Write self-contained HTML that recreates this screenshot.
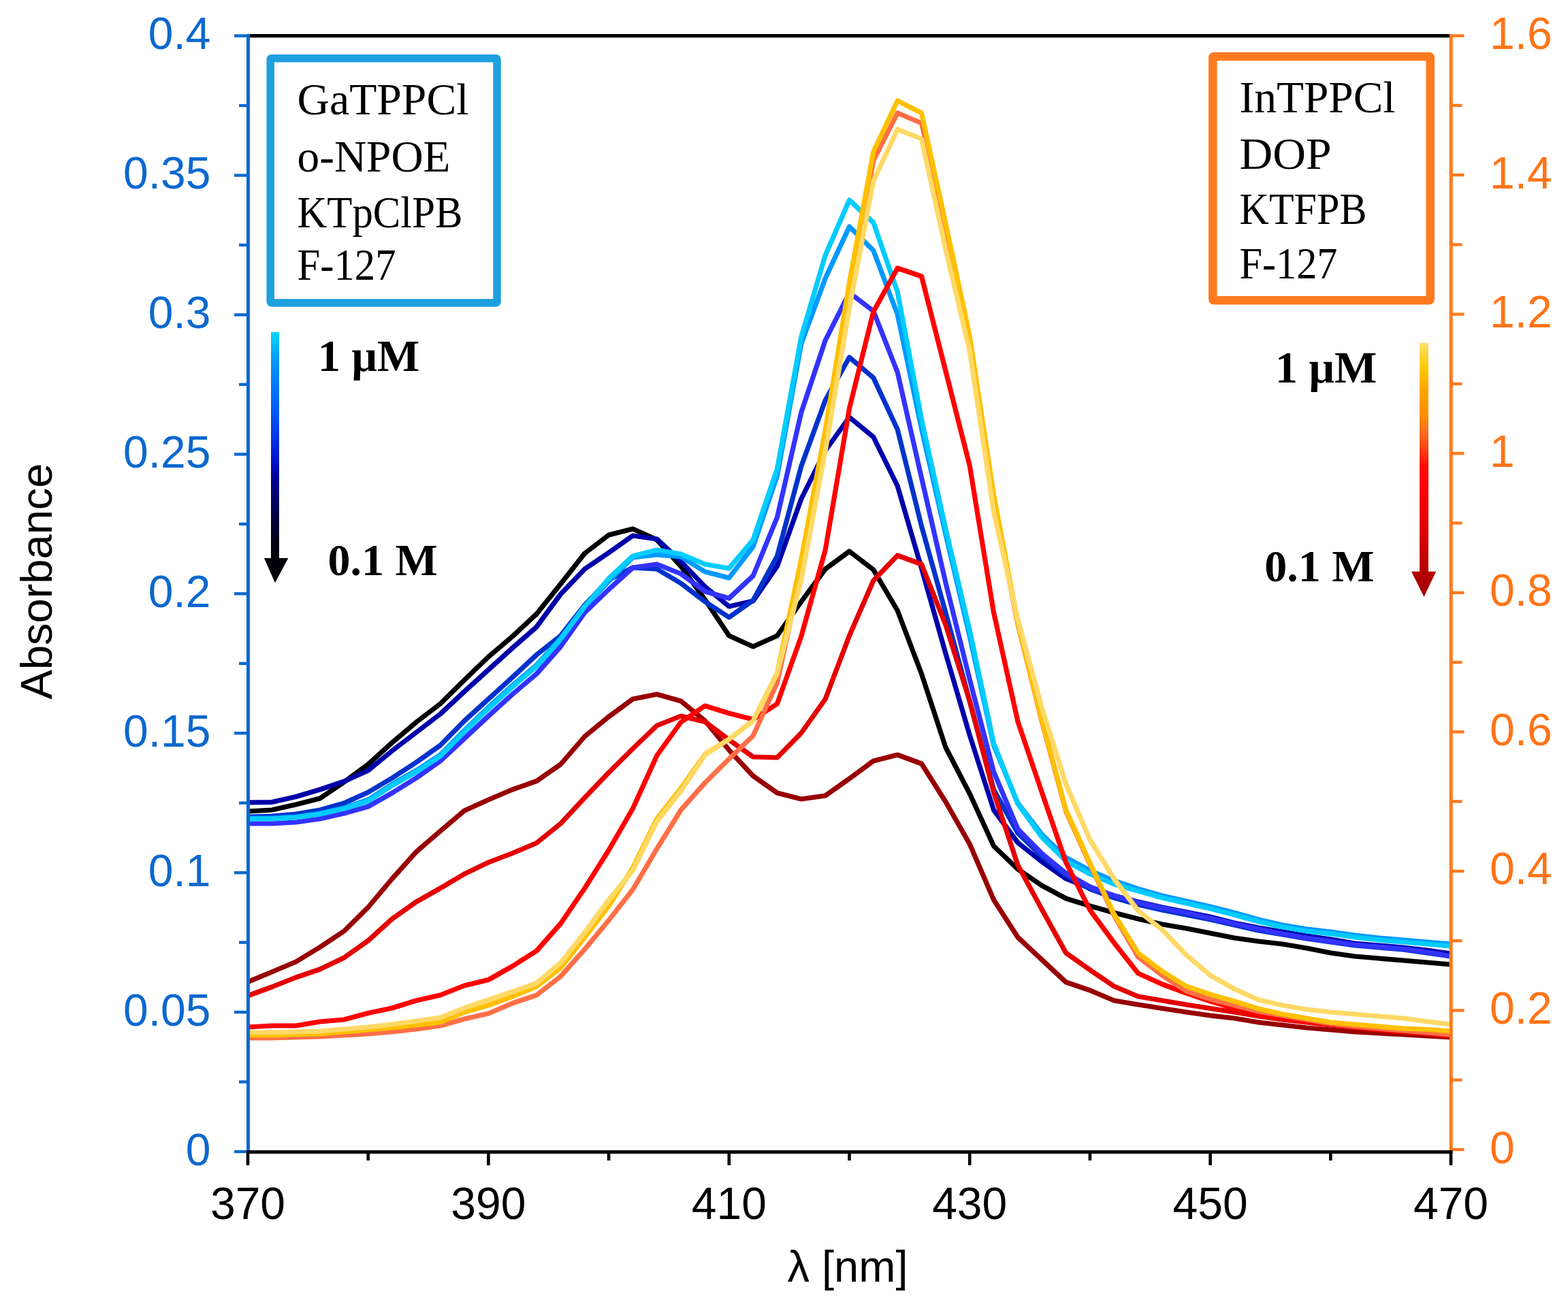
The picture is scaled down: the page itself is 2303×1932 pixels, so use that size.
<!DOCTYPE html>
<html><head><meta charset="utf-8"><title>Absorbance spectra</title>
<style>html,body{margin:0;padding:0;background:#fff;}svg{display:block;}.sans{font-family:"Liberation Sans",Arial,sans-serif;}.serif{font-family:"Liberation Serif","Times New Roman",serif;}</style>
</head><body>
<svg xmlns="http://www.w3.org/2000/svg" width="2303" height="1932" viewBox="0 0 2303 1932">
<defs>
<linearGradient id="gb" x1="0" y1="0" x2="0" y2="1"><stop offset="0" stop-color="#00D8FF"/><stop offset="0.11" stop-color="#0099FF"/><stop offset="0.27" stop-color="#0068FF"/><stop offset="0.39" stop-color="#0040F0"/><stop offset="0.52" stop-color="#0010C8"/><stop offset="0.58" stop-color="#000098"/><stop offset="0.71" stop-color="#000050"/><stop offset="0.84" stop-color="#000010"/><stop offset="1" stop-color="#000000"/></linearGradient>
<linearGradient id="gr" x1="0" y1="0" x2="0" y2="1"><stop offset="0" stop-color="#FFE070"/><stop offset="0.10" stop-color="#FFC800"/><stop offset="0.19" stop-color="#FFA500"/><stop offset="0.29" stop-color="#FF8C00"/><stop offset="0.35" stop-color="#FF7020"/><stop offset="0.42" stop-color="#FF4010"/><stop offset="0.48" stop-color="#FF1000"/><stop offset="0.56" stop-color="#FF0000"/><stop offset="0.66" stop-color="#F00000"/><stop offset="0.77" stop-color="#D80000"/><stop offset="0.89" stop-color="#B80000"/><stop offset="1" stop-color="#A00000"/></linearGradient>
</defs>
<rect x="0" y="0" width="2303" height="1932" fill="#ffffff"/>
<g fill="none" stroke-width="7.2" stroke-linejoin="round" stroke-linecap="butt">
<polyline stroke="#000000" points="364.0,1192.0 399.3,1190.0 434.7,1182.0 470.0,1173.0 505.4,1149.0 540.7,1123.0 576.0,1091.0 611.4,1061.0 646.7,1034.0 682.1,999.0 717.4,965.0 752.7,935.0 788.1,902.0 823.4,858.0 858.8,813.0 894.1,786.0 929.4,777.0 964.8,793.0 1000.1,832.0 1035.5,881.0 1070.8,934.0 1106.1,950.0 1141.5,934.0 1176.8,884.0 1212.2,836.0 1247.5,810.0 1282.8,837.0 1318.2,897.0 1353.5,990.0 1388.9,1098.0 1424.2,1166.0 1459.5,1243.0 1494.9,1277.0 1530.2,1301.0 1565.6,1320.0 1600.9,1331.0 1636.2,1341.0 1671.6,1350.0 1706.9,1358.0 1742.3,1364.0 1777.6,1371.0 1812.9,1378.0 1848.3,1383.0 1883.6,1387.0 1919.0,1393.0 1954.3,1400.0 1989.6,1405.0 2025.0,1408.0 2060.3,1411.0 2095.7,1414.0 2131.0,1417.0"/>
<polyline stroke="#0000AA" points="364.0,1179.0 399.3,1178.6 434.7,1170.5 470.0,1160.0 505.4,1148.0 540.7,1132.0 576.0,1103.0 611.4,1076.0 646.7,1049.0 682.1,1016.0 717.4,984.0 752.7,952.0 788.1,921.0 823.4,873.0 858.8,836.0 894.1,812.0 929.4,787.0 964.8,792.0 1000.1,825.0 1035.5,862.0 1070.8,891.0 1106.1,883.0 1141.5,832.0 1176.8,733.0 1212.2,662.0 1247.5,613.0 1282.8,642.0 1318.2,714.0 1353.5,835.0 1388.9,960.0 1424.2,1080.0 1459.5,1190.0 1494.9,1238.0 1530.2,1266.0 1565.6,1291.0 1600.9,1305.0 1636.2,1316.0 1671.6,1325.0 1706.9,1333.0 1742.3,1340.0 1777.6,1347.0 1812.9,1356.0 1848.3,1363.0 1883.6,1369.0 1919.0,1375.0 1954.3,1380.0 1989.6,1386.0 2025.0,1389.0 2060.3,1392.0 2095.7,1396.0 2131.0,1401.0"/>
<polyline stroke="#0033CC" points="364.0,1200.0 399.3,1199.0 434.7,1196.0 470.0,1190.0 505.4,1180.0 540.7,1164.0 576.0,1143.0 611.4,1120.0 646.7,1095.0 682.1,1059.0 717.4,1027.0 752.7,995.0 788.1,962.0 823.4,934.0 858.8,889.0 894.1,852.0 929.4,834.0 964.8,836.0 1000.1,857.0 1035.5,884.0 1070.8,907.0 1106.1,882.0 1141.5,817.0 1176.8,685.0 1212.2,588.0 1247.5,525.0 1282.8,555.0 1318.2,631.0 1353.5,773.0 1388.9,900.0 1424.2,1030.0 1459.5,1160.0 1494.9,1224.0 1530.2,1258.0 1565.6,1286.0 1600.9,1306.0 1636.2,1319.0 1671.6,1329.0 1706.9,1337.0 1742.3,1344.0 1777.6,1351.0 1812.9,1359.0 1848.3,1367.0 1883.6,1373.0 1919.0,1379.0 1954.3,1384.0 1989.6,1389.0 2025.0,1392.0 2060.3,1395.0 2095.7,1400.0 2131.0,1405.0"/>
<polyline stroke="#3333FF" points="364.0,1210.0 399.3,1210.0 434.7,1208.0 470.0,1203.0 505.4,1195.0 540.7,1185.0 576.0,1165.0 611.4,1143.0 646.7,1118.0 682.1,1085.0 717.4,1052.0 752.7,1020.0 788.1,990.0 823.4,950.0 858.8,900.0 894.1,866.0 929.4,834.0 964.8,829.0 1000.1,843.0 1035.5,869.0 1070.8,879.0 1106.1,846.0 1141.5,760.0 1176.8,606.0 1212.2,500.0 1247.5,430.0 1282.8,457.0 1318.2,547.0 1353.5,702.0 1388.9,856.0 1424.2,998.0 1459.5,1134.0 1494.9,1218.0 1530.2,1254.0 1565.6,1283.0 1600.9,1303.0 1636.2,1316.0 1671.6,1326.0 1706.9,1334.0 1742.3,1341.0 1777.6,1349.0 1812.9,1357.0 1848.3,1365.0 1883.6,1372.0 1919.0,1378.0 1954.3,1383.0 1989.6,1388.0 2025.0,1391.0 2060.3,1394.0 2095.7,1399.0 2131.0,1405.0"/>
<polyline stroke="#0099FF" points="364.0,1202.0 399.3,1202.0 434.7,1200.0 470.0,1195.0 505.4,1187.0 540.7,1175.0 576.0,1152.0 611.4,1132.0 646.7,1109.0 682.1,1073.0 717.4,1039.0 752.7,1007.0 788.1,977.0 823.4,938.0 858.8,891.0 894.1,854.0 929.4,819.0 964.8,815.0 1000.1,818.0 1035.5,840.0 1070.8,849.0 1106.1,803.0 1141.5,699.0 1176.8,505.0 1212.2,409.0 1247.5,333.0 1282.8,368.0 1318.2,462.0 1353.5,630.0 1388.9,785.0 1424.2,935.0 1459.5,1095.0 1494.9,1180.0 1530.2,1226.0 1565.6,1260.0 1600.9,1279.0 1636.2,1294.0 1671.6,1306.0 1706.9,1316.0 1742.3,1324.0 1777.6,1332.0 1812.9,1341.0 1848.3,1351.0 1883.6,1359.0 1919.0,1365.0 1954.3,1369.0 1989.6,1374.0 2025.0,1378.0 2060.3,1381.0 2095.7,1384.0 2131.0,1387.0"/>
<polyline stroke="#00CCFF" points="364.0,1203.0 399.3,1203.0 434.7,1201.0 470.0,1196.0 505.4,1188.0 540.7,1177.0 576.0,1154.0 611.4,1134.0 646.7,1111.0 682.1,1075.0 717.4,1041.0 752.7,1009.0 788.1,979.0 823.4,939.0 858.8,891.0 894.1,850.0 929.4,817.0 964.8,808.0 1000.1,814.0 1035.5,829.0 1070.8,835.0 1106.1,793.0 1141.5,689.0 1176.8,495.0 1212.2,375.0 1247.5,294.0 1282.8,327.0 1318.2,429.0 1353.5,616.0 1388.9,777.0 1424.2,926.0 1459.5,1092.0 1494.9,1181.0 1530.2,1230.0 1565.6,1265.0 1600.9,1284.0 1636.2,1299.0 1671.6,1309.0 1706.9,1319.0 1742.3,1327.0 1777.6,1335.0 1812.9,1344.0 1848.3,1354.0 1883.6,1362.0 1919.0,1368.0 1954.3,1372.0 1989.6,1377.0 2025.0,1381.0 2060.3,1384.0 2095.7,1387.0 2131.0,1390.0"/>
<polyline stroke="#980000" points="364.0,1442.6 399.3,1428.0 434.7,1413.0 470.0,1391.5 505.4,1368.0 540.7,1333.0 576.0,1291.0 611.4,1251.5 646.7,1221.0 682.1,1191.0 717.4,1175.0 752.7,1160.0 788.1,1147.5 823.4,1123.0 858.8,1082.0 894.1,1053.0 929.4,1027.0 964.8,1020.0 1000.1,1030.0 1035.5,1059.0 1070.8,1102.0 1106.1,1140.0 1141.5,1165.0 1176.8,1174.0 1212.2,1169.0 1247.5,1144.0 1282.8,1118.0 1318.2,1109.0 1353.5,1122.0 1388.9,1178.0 1424.2,1240.0 1459.5,1322.0 1494.9,1377.0 1530.2,1410.0 1565.6,1443.0 1600.9,1455.0 1636.2,1470.0 1671.6,1476.0 1706.9,1481.5 1742.3,1487.0 1777.6,1492.0 1812.9,1496.0 1848.3,1502.0 1883.6,1506.0 1919.0,1510.0 1954.3,1513.0 1989.6,1516.0 2025.0,1518.0 2060.3,1520.0 2095.7,1522.0 2131.0,1524.0"/>
<polyline stroke="#E40000" points="364.0,1463.0 399.3,1450.0 434.7,1436.0 470.0,1424.0 505.4,1407.0 540.7,1382.0 576.0,1350.0 611.4,1325.0 646.7,1305.0 682.1,1284.0 717.4,1267.0 752.7,1253.5 788.1,1238.5 823.4,1210.0 858.8,1172.0 894.1,1135.0 929.4,1100.0 964.8,1066.0 1000.1,1052.0 1035.5,1060.5 1070.8,1087.0 1106.1,1112.0 1141.5,1113.0 1176.8,1077.0 1212.2,1027.0 1247.5,934.0 1282.8,853.0 1318.2,816.0 1353.5,829.0 1388.9,918.0 1424.2,1030.0 1459.5,1164.0 1494.9,1271.0 1530.2,1336.0 1565.6,1400.0 1600.9,1425.0 1636.2,1449.0 1671.6,1464.0 1706.9,1470.0 1742.3,1476.0 1777.6,1481.5 1812.9,1487.0 1848.3,1493.0 1883.6,1498.0 1919.0,1502.0 1954.3,1506.0 1989.6,1510.0 2025.0,1513.0 2060.3,1516.0 2095.7,1519.0 2131.0,1522.0"/>
<polyline stroke="#FF0000" points="364.0,1509.0 399.3,1507.0 434.7,1507.0 470.0,1501.0 505.4,1498.0 540.7,1488.5 576.0,1481.0 611.4,1470.0 646.7,1462.0 682.1,1448.0 717.4,1439.5 752.7,1419.5 788.1,1397.0 823.4,1357.0 858.8,1305.0 894.1,1249.0 929.4,1188.0 964.8,1110.0 1000.1,1061.0 1035.5,1037.0 1070.8,1048.0 1106.1,1057.0 1141.5,1034.0 1176.8,935.0 1212.2,808.0 1247.5,600.0 1282.8,458.0 1318.2,394.0 1353.5,406.0 1388.9,545.0 1424.2,684.0 1459.5,900.0 1494.9,1060.0 1530.2,1164.0 1565.6,1267.0 1600.9,1337.0 1636.2,1385.0 1671.6,1430.0 1706.9,1446.0 1742.3,1459.0 1777.6,1471.0 1812.9,1481.5 1848.3,1490.0 1883.6,1496.0 1919.0,1501.0 1954.3,1505.0 1989.6,1509.0 2025.0,1512.0 2060.3,1515.0 2095.7,1518.0 2131.0,1521.0"/>
<polyline stroke="#FF6F47" points="364.0,1525.0 399.3,1525.0 434.7,1524.0 470.0,1523.0 505.4,1521.0 540.7,1519.0 576.0,1516.0 611.4,1512.0 646.7,1507.0 682.1,1497.0 717.4,1489.0 752.7,1474.0 788.1,1462.0 823.4,1434.5 858.8,1394.6 894.1,1352.0 929.4,1307.0 964.8,1247.0 1000.1,1190.0 1035.5,1150.0 1070.8,1115.0 1106.1,1081.0 1141.5,1003.0 1176.8,840.0 1212.2,648.0 1247.5,435.0 1282.8,236.0 1318.2,166.0 1353.5,181.0 1388.9,335.0 1424.2,505.0 1459.5,737.0 1494.9,917.0 1530.2,1060.0 1565.6,1192.0 1600.9,1270.0 1636.2,1345.0 1671.6,1406.0 1706.9,1433.0 1742.3,1456.0 1777.6,1468.0 1812.9,1477.0 1848.3,1486.0 1883.6,1492.0 1919.0,1498.0 1954.3,1504.0 1989.6,1508.0 2025.0,1511.0 2060.3,1514.0 2095.7,1517.0 2131.0,1520.0"/>
<polyline stroke="#FFC000" points="364.0,1521.0 399.3,1521.0 434.7,1520.0 470.0,1519.0 505.4,1516.0 540.7,1513.0 576.0,1510.0 611.4,1506.0 646.7,1502.0 682.1,1487.0 717.4,1477.0 752.7,1464.0 788.1,1449.5 823.4,1422.0 858.8,1377.0 894.1,1331.0 929.4,1275.0 964.8,1203.0 1000.1,1158.0 1035.5,1108.0 1070.8,1086.0 1106.1,1059.0 1141.5,989.0 1176.8,822.0 1212.2,632.0 1247.5,415.0 1282.8,223.0 1318.2,148.0 1353.5,166.0 1388.9,328.0 1424.2,494.0 1459.5,727.0 1494.9,915.0 1530.2,1058.0 1565.6,1190.0 1600.9,1268.0 1636.2,1343.0 1671.6,1400.0 1706.9,1427.0 1742.3,1449.0 1777.6,1461.0 1812.9,1471.0 1848.3,1482.0 1883.6,1490.0 1919.0,1496.0 1954.3,1502.0 1989.6,1505.0 2025.0,1508.0 2060.3,1511.0 2095.7,1512.5 2131.0,1515.0"/>
<polyline stroke="#FFD966" points="364.0,1517.0 399.3,1517.0 434.7,1516.0 470.0,1515.0 505.4,1512.0 540.7,1509.0 576.0,1505.0 611.4,1500.0 646.7,1495.0 682.1,1481.0 717.4,1469.0 752.7,1457.0 788.1,1444.5 823.4,1414.5 858.8,1370.0 894.1,1322.0 929.4,1279.0 964.8,1207.0 1000.1,1162.0 1035.5,1109.0 1070.8,1086.0 1106.1,1059.0 1141.5,989.0 1176.8,852.0 1212.2,662.0 1247.5,452.0 1282.8,266.0 1318.2,190.0 1353.5,204.0 1388.9,366.0 1424.2,516.0 1459.5,752.0 1494.9,910.0 1530.2,1040.0 1565.6,1152.0 1600.9,1234.0 1636.2,1291.0 1671.6,1338.0 1706.9,1366.0 1742.3,1403.0 1777.6,1433.0 1812.9,1453.0 1848.3,1469.0 1883.6,1477.0 1919.0,1483.0 1954.3,1487.0 1989.6,1490.0 2025.0,1493.0 2060.3,1496.0 2095.7,1500.7 2131.0,1505.0"/>
</g>
<line x1="364.5" y1="49.9" x2="364.5" y2="1692.5" stroke="#0B68CF" stroke-width="5"/>
<line x1="344.0" y1="1692.0" x2="364.5" y2="1692.0" stroke="#0B68CF" stroke-width="4.4"/>
<line x1="351.0" y1="1589.5" x2="364.5" y2="1589.5" stroke="#0B68CF" stroke-width="4.4"/>
<line x1="344.0" y1="1487.1" x2="364.5" y2="1487.1" stroke="#0B68CF" stroke-width="4.4"/>
<line x1="351.0" y1="1384.6" x2="364.5" y2="1384.6" stroke="#0B68CF" stroke-width="4.4"/>
<line x1="344.0" y1="1282.2" x2="364.5" y2="1282.2" stroke="#0B68CF" stroke-width="4.4"/>
<line x1="351.0" y1="1179.7" x2="364.5" y2="1179.7" stroke="#0B68CF" stroke-width="4.4"/>
<line x1="344.0" y1="1077.2" x2="364.5" y2="1077.2" stroke="#0B68CF" stroke-width="4.4"/>
<line x1="351.0" y1="974.8" x2="364.5" y2="974.8" stroke="#0B68CF" stroke-width="4.4"/>
<line x1="344.0" y1="872.3" x2="364.5" y2="872.3" stroke="#0B68CF" stroke-width="4.4"/>
<line x1="351.0" y1="769.9" x2="364.5" y2="769.9" stroke="#0B68CF" stroke-width="4.4"/>
<line x1="344.0" y1="667.4" x2="364.5" y2="667.4" stroke="#0B68CF" stroke-width="4.4"/>
<line x1="351.0" y1="564.9" x2="364.5" y2="564.9" stroke="#0B68CF" stroke-width="4.4"/>
<line x1="344.0" y1="462.5" x2="364.5" y2="462.5" stroke="#0B68CF" stroke-width="4.4"/>
<line x1="351.0" y1="360.0" x2="364.5" y2="360.0" stroke="#0B68CF" stroke-width="4.4"/>
<line x1="344.0" y1="257.6" x2="364.5" y2="257.6" stroke="#0B68CF" stroke-width="4.4"/>
<line x1="351.0" y1="155.1" x2="364.5" y2="155.1" stroke="#0B68CF" stroke-width="4.4"/>
<line x1="344.0" y1="52.6" x2="364.5" y2="52.6" stroke="#0B68CF" stroke-width="4.4"/>
<line x1="2131.2" y1="49.9" x2="2131.2" y2="1692.5" stroke="#FF7A1E" stroke-width="5"/>
<line x1="2131.2" y1="1689.0" x2="2150.5" y2="1689.0" stroke="#FF7A1E" stroke-width="4.4"/>
<line x1="2131.2" y1="1586.7" x2="2147.5" y2="1586.7" stroke="#FF7A1E" stroke-width="4.4"/>
<line x1="2131.2" y1="1484.5" x2="2150.5" y2="1484.5" stroke="#FF7A1E" stroke-width="4.4"/>
<line x1="2131.2" y1="1382.2" x2="2147.5" y2="1382.2" stroke="#FF7A1E" stroke-width="4.4"/>
<line x1="2131.2" y1="1279.9" x2="2150.5" y2="1279.9" stroke="#FF7A1E" stroke-width="4.4"/>
<line x1="2131.2" y1="1177.6" x2="2147.5" y2="1177.6" stroke="#FF7A1E" stroke-width="4.4"/>
<line x1="2131.2" y1="1075.3" x2="2150.5" y2="1075.3" stroke="#FF7A1E" stroke-width="4.4"/>
<line x1="2131.2" y1="973.1" x2="2147.5" y2="973.1" stroke="#FF7A1E" stroke-width="4.4"/>
<line x1="2131.2" y1="870.8" x2="2150.5" y2="870.8" stroke="#FF7A1E" stroke-width="4.4"/>
<line x1="2131.2" y1="768.5" x2="2147.5" y2="768.5" stroke="#FF7A1E" stroke-width="4.4"/>
<line x1="2131.2" y1="666.2" x2="2150.5" y2="666.2" stroke="#FF7A1E" stroke-width="4.4"/>
<line x1="2131.2" y1="564.0" x2="2147.5" y2="564.0" stroke="#FF7A1E" stroke-width="4.4"/>
<line x1="2131.2" y1="461.7" x2="2150.5" y2="461.7" stroke="#FF7A1E" stroke-width="4.4"/>
<line x1="2131.2" y1="359.4" x2="2147.5" y2="359.4" stroke="#FF7A1E" stroke-width="4.4"/>
<line x1="2131.2" y1="257.1" x2="2150.5" y2="257.1" stroke="#FF7A1E" stroke-width="4.4"/>
<line x1="2131.2" y1="154.9" x2="2147.5" y2="154.9" stroke="#FF7A1E" stroke-width="4.4"/>
<line x1="2131.2" y1="52.6" x2="2150.5" y2="52.6" stroke="#FF7A1E" stroke-width="4.4"/>
<line x1="366.8" y1="52.6" x2="2128.8999999999996" y2="52.6" stroke="#000" stroke-width="5.4"/>
<line x1="362.2" y1="1692.5" x2="2133.5" y2="1692.5" stroke="#000" stroke-width="5"/>
<line x1="364.0" y1="1692.5" x2="364.0" y2="1712.0" stroke="#000" stroke-width="4.6"/>
<line x1="540.7" y1="1692.5" x2="540.7" y2="1705.0" stroke="#000" stroke-width="4.6"/>
<line x1="717.4" y1="1692.5" x2="717.4" y2="1712.0" stroke="#000" stroke-width="4.6"/>
<line x1="894.1" y1="1692.5" x2="894.1" y2="1705.0" stroke="#000" stroke-width="4.6"/>
<line x1="1070.8" y1="1692.5" x2="1070.8" y2="1712.0" stroke="#000" stroke-width="4.6"/>
<line x1="1247.5" y1="1692.5" x2="1247.5" y2="1705.0" stroke="#000" stroke-width="4.6"/>
<line x1="1424.2" y1="1692.5" x2="1424.2" y2="1712.0" stroke="#000" stroke-width="4.6"/>
<line x1="1600.9" y1="1692.5" x2="1600.9" y2="1705.0" stroke="#000" stroke-width="4.6"/>
<line x1="1777.6" y1="1692.5" x2="1777.6" y2="1712.0" stroke="#000" stroke-width="4.6"/>
<line x1="1954.3" y1="1692.5" x2="1954.3" y2="1705.0" stroke="#000" stroke-width="4.6"/>
<line x1="2131.0" y1="1692.5" x2="2131.0" y2="1712.0" stroke="#000" stroke-width="4.6"/>
<g class="sans" font-size="66" fill="#0B68CF" text-anchor="end">
<text x="309.5" y="1711.5">0</text>
<text x="309.5" y="1506.6">0.05</text>
<text x="309.5" y="1301.7">0.1</text>
<text x="309.5" y="1096.7">0.15</text>
<text x="309.5" y="891.8">0.2</text>
<text x="309.5" y="686.9">0.25</text>
<text x="309.5" y="482.0">0.3</text>
<text x="309.5" y="277.1">0.35</text>
<text x="309.5" y="72.1">0.4</text>
</g>
<g class="sans" font-size="66" fill="#FF7416" text-anchor="start">
<text x="2188" y="1708.5">0</text>
<text x="2188" y="1504.0">0.2</text>
<text x="2188" y="1299.4">0.4</text>
<text x="2188" y="1094.8">0.6</text>
<text x="2188" y="890.3">0.8</text>
<text x="2188" y="685.8">1</text>
<text x="2188" y="481.2">1.2</text>
<text x="2188" y="276.6">1.4</text>
<text x="2188" y="72.1">1.6</text>
</g>
<g class="sans" font-size="66" fill="#000" text-anchor="middle">
<text x="364.0" y="1790.5">370</text>
<text x="717.4" y="1790.5">390</text>
<text x="1070.8" y="1790.5">410</text>
<text x="1424.2" y="1790.5">430</text>
<text x="1777.6" y="1790.5">450</text>
<text x="2131.0" y="1790.5">470</text>
</g>
<text class="sans" font-size="65" fill="#000" text-anchor="middle" x="1245" y="1883.3">λ [nm]</text>
<text class="sans" font-size="65" fill="#000" text-anchor="middle" transform="translate(76 854) rotate(-90)">Absorbance</text>
<rect x="397.2" y="85.7" width="332.8" height="359.2" rx="1.5" fill="#fff" stroke="#1DA0DE" stroke-width="11.5"/>
<rect x="1781.3" y="83.0" width="319.4" height="358.2" rx="1.5" fill="#fff" stroke="#FF7A1E" stroke-width="12.5"/>
<g fill="#000">
<text class="serif" font-size="64.6" x="436.5" y="167.5" textLength="252" lengthAdjust="spacingAndGlyphs">GaTPPCl</text>
<text class="serif" font-size="64.6" x="436.5" y="251.5" textLength="225" lengthAdjust="spacingAndGlyphs">o-NPOE</text>
<text class="serif" font-size="64.6" x="436.5" y="333.5" textLength="243" lengthAdjust="spacingAndGlyphs">KTpClPB</text>
<text class="serif" font-size="64.6" x="436.5" y="410.7" textLength="145" lengthAdjust="spacingAndGlyphs">F-127</text>
<text class="serif" font-size="64.6" x="1820.5" y="164.9" textLength="229" lengthAdjust="spacingAndGlyphs">InTPPCl</text>
<text class="serif" font-size="64.6" x="1820.5" y="247.6" textLength="135" lengthAdjust="spacingAndGlyphs">DOP</text>
<text class="serif" font-size="64.6" x="1820.5" y="329.4" textLength="187" lengthAdjust="spacingAndGlyphs">KTFPB</text>
<text class="serif" font-size="64.6" x="1820.5" y="409.2" textLength="144" lengthAdjust="spacingAndGlyphs">F-127</text>
</g>
<path d="M398,488 L410,488 L410,820 L423.3,820 L404,856.3 L387.9,820 L398,820 Z" fill="url(#gb)"/>
<path d="M2085,503.8 L2098,503.8 L2098,839.8 L2109.2,839.8 L2091.5,876.7 L2073,839.8 L2085,839.8 Z" fill="url(#gr)"/>
<g class="serif" font-weight="bold" font-size="66" fill="#000">
<text x="467" y="544.5">1 μM</text>
<text x="481.5" y="844.7">0.1 M</text>
<text x="1873" y="562.2">1 μM</text>
<text x="1857.3" y="854">0.1 M</text>
</g>
</svg>
</body></html>
